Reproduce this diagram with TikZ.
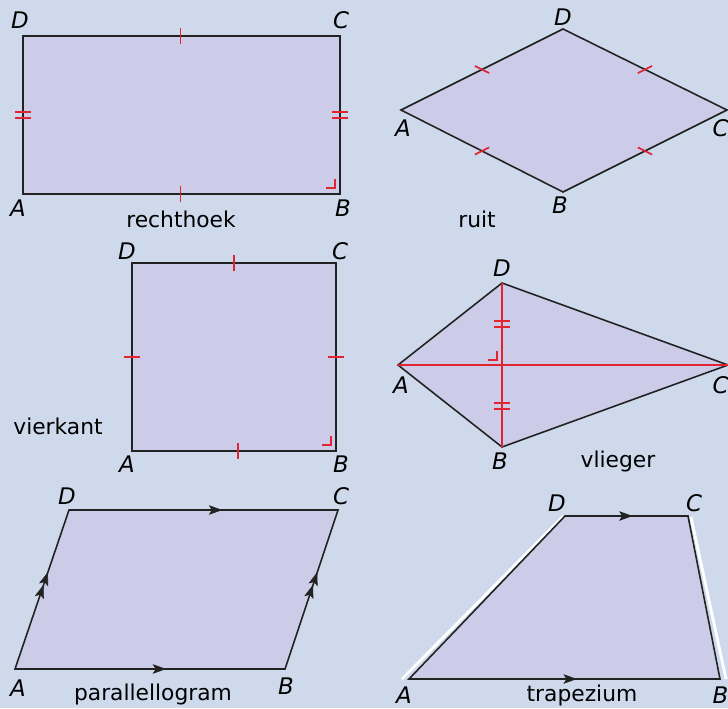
\documentclass[tikz,border=0pt]{standalone}
\usepackage{fontspec}
\setmainfont{DejaVu Sans}
\usetikzlibrary{calc,arrows.meta,decorations.markings}

\definecolor{bgblue}{RGB}{206,218,236}
\definecolor{vlak}{RGB}{204,204,232}
\definecolor{rood}{RGB}{226,36,48}
\definecolor{rand}{RGB}{34,34,34}

\tikzset{
  figure/.style={draw=rand, fill=vlak, line width=0.9pt},
  tickline/.style={draw=rood, line width=1pt},
  diagonal/.style={draw=rood, line width=1pt},
  vertex/.style={font=\fontsize{13}{15}\selectfont\itshape, inner sep=0pt},
  shapename/.style={font=\fontsize{12.4}{14}\selectfont, inner sep=0pt},
  onetick/.pic={\draw[tickline] (-0.16,0) -- (0.16,0);},
  twotick/.pic={\draw[tickline] (-0.16,0.065) -- (0.16,0.065) (-0.16,-0.065) -- (0.16,-0.065);},
  rightmark/.pic={\draw[tickline] (-0.18,0) -- (0,0) -- (0,0.18);},
  tipat/.style={postaction={decorate}, decoration={markings,
    mark=at position #1 with {\arrow{Stealth[length=2.7mm,width=1.9mm,inset=0.6mm]}}}},
  twotips/.style={postaction={decorate}, decoration={markings,
    mark=at position 0.53 with {\arrow{Stealth[length=2.7mm,width=1.9mm,inset=0.6mm]}},
    mark=at position 0.61 with {\arrow{Stealth[length=2.7mm,width=1.9mm,inset=0.6mm]}}}},
  whiteedge/.style={draw=white, line width=1.6pt}
}

\begin{document}
\begin{tikzpicture}
\useasboundingbox (0,0) rectangle (14.56,14.16);
\fill[bgblue] (0,0) rectangle (14.56,14.16);

% rechthoek
\coordinate (rA) at (0.46,10.28);
\coordinate (rB) at (6.80,10.28);
\coordinate (rC) at (6.80,13.44);
\coordinate (rD) at (0.46,13.44);
\filldraw[figure] (rA) -- (rB) -- (rC) -- (rD) -- cycle;
\pic[rotate=90] at ($(rA)!.497!(rB)$) {onetick};
\pic[rotate=90] at ($(rD)!.497!(rC)$) {onetick};
\pic at ($(rA)!.5!(rD)$) {twotick};
\pic at ($(rB)!.5!(rC)$) {twotick};
\pic at ($(rB)+(-0.1,0.12)$) {rightmark};
\node[vertex] (rlA) at (0.36,10.0) {A};
\node[vertex] (rlB) at (6.86,10.0) {B};
\node[vertex] (rlC) at (6.82,13.76) {C};
\node[vertex] (rlD) at (0.40,13.76) {D};
\node[shapename] (rname) at (3.62,9.78) {rechthoek};

% ruit
\coordinate (uA) at (8.02,11.96);
\coordinate (uB) at (11.26,10.32);
\coordinate (uC) at (14.54,11.96);
\coordinate (uD) at (11.26,13.58);
\filldraw[figure] (uA) -- (uB) -- (uC) -- (uD) -- cycle;
\pic[rotate=-26.57] at ($(uA)!.5!(uD)$) {onetick};
\pic[rotate=26.57] at ($(uD)!.5!(uC)$) {onetick};
\pic[rotate=26.57] at ($(uA)!.5!(uB)$) {onetick};
\pic[rotate=-26.57] at ($(uB)!.5!(uC)$) {onetick};
\node[vertex] (ulA) at (8.06,11.60) {A};
\node[vertex] (ulB) at (11.20,10.06) {B};
\node[vertex] (ulC) at (14.41,11.60) {C};
\node[vertex] (ulD) at (11.26,13.82) {D};
\node[shapename] (uname) at (9.54,9.78) {ruit};

% vierkant
\coordinate (vA) at (2.64,5.14);
\coordinate (vB) at (6.72,5.14);
\coordinate (vC) at (6.72,8.90);
\coordinate (vD) at (2.64,8.90);
\filldraw[figure] (vA) -- (vB) -- (vC) -- (vD) -- cycle;
\pic[rotate=90] at ($(vD)!.5!(vC)$) {onetick};
\pic[rotate=90] at ($(vA)!.52!(vB)$) {onetick};
\pic at ($(vA)!.5!(vD)$) {onetick};
\pic at ($(vB)!.5!(vC)$) {onetick};
\pic at ($(vB)+(-0.1,0.12)$) {rightmark};
\node[vertex] (vlA) at (2.54,4.88) {A};
\node[vertex] (vlB) at (6.82,4.88) {B};
\node[vertex] (vlC) at (6.80,9.14) {C};
\node[vertex] (vlD) at (2.54,9.14) {D};
\node[shapename] (vname) at (1.16,5.64) {vierkant};

% vlieger
\coordinate (kA) at (7.96,6.86);
\coordinate (kB) at (10.04,5.22);
\coordinate (kC) at (14.56,6.86);
\coordinate (kD) at (10.04,8.50);
\coordinate (kI) at (10.04,6.86);
\filldraw[figure] (kA) -- (kB) -- (kC) -- (kD) -- cycle;
\draw[diagonal] (kA) -- (kC);
\draw[diagonal] (kD) -- (kB);
\pic at ($(kD)!.5!(kI)$) {twotick};
\pic at ($(kI)!.5!(kB)$) {twotick};
\pic at ($(kI)+(-0.1,0.1)$) {rightmark};
\node[vertex] (klA) at (8.02,6.46) {A};
\node[vertex] (klB) at (10.00,4.94) {B};
\node[vertex] (klC) at (14.41,6.46) {C};
\node[vertex] (klD) at (10.04,8.80) {D};
\node[shapename] (kname) at (12.36,4.94) {vlieger};

% parallellogram
\coordinate (pA) at (0.30,0.78);
\coordinate (pB) at (5.70,0.78);
\coordinate (pC) at (6.76,3.96);
\coordinate (pD) at (1.38,3.96);
\filldraw[figure] (pA) -- (pB) -- (pC) -- (pD) -- cycle;
\path[color=rand, tipat=0.56] (pA) -- (pB);
\path[color=rand, tipat=0.57] (pD) -- (pC);
\path[color=rand, twotips] (pA) -- (pD);
\path[color=rand, twotips] (pB) -- (pC);
\node[vertex] (plA) at (0.36,0.40) {A};
\node[vertex] (plB) at (5.72,0.44) {B};
\node[vertex] (plC) at (6.82,4.24) {C};
\node[vertex] (plD) at (1.34,4.24) {D};
\node[shapename] (pname) at (3.06,0.28) {parallellogram};

% trapezium
\coordinate (tA) at (8.18,0.58);
\coordinate (tB) at (14.40,0.58);
\coordinate (tC) at (13.76,3.84);
\coordinate (tD) at (11.30,3.84);
\draw[whiteedge] ($(tA)+(-0.14,0)$) -- ($(tD)+(-0.03,0)$);
\draw[whiteedge] ($(tC)+(0.06,-0.02)$) -- ($(tB)+(0.12,0)$);
\filldraw[figure] (tA) -- (tB) -- (tC) -- (tD) -- cycle;
\path[color=rand, tipat=0.54] (tA) -- (tB);
\path[color=rand, tipat=0.55] (tD) -- (tC);
\node[vertex] (tlA) at (8.08,0.26) {A};
\node[vertex] (tlB) at (14.41,0.26) {B};
\node[vertex] (tlC) at (13.88,4.10) {C};
\node[vertex] (tlD) at (11.14,4.10) {D};
\node[shapename] (tname) at (11.64,0.26) {trapezium};
\end{tikzpicture}
\end{document}
